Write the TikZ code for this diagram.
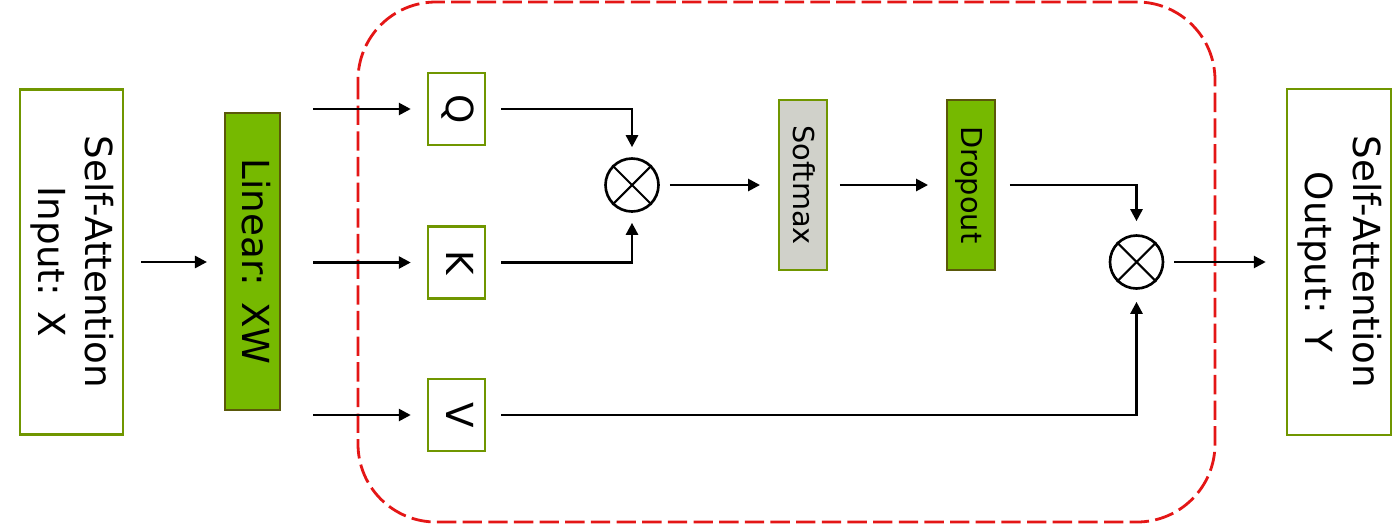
\documentclass[tikz,border=0pt]{standalone}
\usepackage{fontspec}
\setmainfont{DejaVu Sans}
\usepackage{graphicx}
\usetikzlibrary{arrows.meta}

\definecolor{nvgreen}{RGB}{118,185,0}
\definecolor{boxline}{RGB}{112,150,0}
\definecolor{darkline}{RGB}{90,88,10}
\definecolor{greyfill}{RGB}{208,209,202}
\definecolor{dashred}{RGB}{228,22,22}

% rotated (top-to-bottom) label
\newcommand{\vtext}[1]{\rotatebox{-90}{\begin{tabular}{@{}c@{}}#1\end{tabular}}}

\begin{document}
\begin{tikzpicture}[
    font=\fontsize{10.6}{13.6}\selectfont,
    >={Triangle[length=0.12cm,width=0.12cm]},
    arr/.style={->, line width=0.75pt},
    plain/.style={draw=boxline, line width=0.7pt, fill=white, inner sep=0pt},
    greenbox/.style={draw=darkline, line width=0.6pt, fill=nvgreen, inner sep=0pt},
    greybox/.style={draw=boxline, line width=0.6pt, fill=greyfill, inner sep=0pt},
    mult/.style={circle, draw, line width=0.75pt, minimum size=0.53cm, inner sep=0pt}]

    \useasboundingbox (0,0) rectangle (14,-5.25);

    \draw[dashred, line width=0.8pt, dash pattern=on 5.5pt off 1.8pt, rounded corners=0.78cm]
        (3.58,-0.02) rectangle (12.15,-5.22);

    \node[plain, minimum width=1.03cm, minimum height=3.45cm] (in) at (0.715,-2.62) {\vtext{Self-Attention\\Input: X}};
    \node[greenbox, minimum width=0.55cm, minimum height=2.97cm] (lin) at (2.525,-2.615) {\vtext{Linear: XW}};

    \node[plain, minimum width=0.57cm, minimum height=0.72cm] (q) at (4.565,-1.09) {\vtext{Q}};
    \node[plain, minimum width=0.57cm, minimum height=0.72cm] (k) at (4.565,-2.625) {\vtext{K}};
    \node[plain, minimum width=0.57cm, minimum height=0.72cm] (v) at (4.565,-4.15) {\vtext{V}};

    \node[mult] (m1) at (6.32,-1.85) {};
    \node[greybox, minimum width=0.46cm, minimum height=1.70cm] (sm) at (8.03,-1.85) {\vtext{\fontsize{8.2}{10}\selectfont Softmax}};
    \node[greenbox, minimum width=0.46cm, minimum height=1.70cm] (dr) at (9.71,-1.85) {\vtext{\fontsize{8.2}{10}\selectfont Dropout}};
    \node[mult] (m2) at (11.365,-2.62) {};

    \node[plain, minimum width=1.04cm, minimum height=3.46cm] (out) at (13.39,-2.62) {\vtext{Self-Attention\\Output: Y}};

    \foreach \m in {m1,m2}
        \draw[line width=0.6pt] (\m.north west) -- (\m.south east) (\m.north east) -- (\m.south west);

    \draw[arr, shorten <=0.17cm, shorten >=0.17cm] (in.east) -- (in.east -| lin.west);
    \foreach \t in {q,k,v}
        \draw[arr] ([xshift=0.32cm]lin.east |- \t.west) -- ([xshift=-0.16cm]\t.west);

    \draw[arr, shorten <=0.15cm, shorten >=0.1cm] (q.east) -| (m1.north);
    \draw[arr, shorten <=0.15cm, shorten >=0.1cm] (k.east) -| (m1.south);
    \draw[arr, shorten <=0.1cm, shorten >=0.18cm] (m1.east) -- (sm.west);
    \draw[arr, shorten <=0.12cm, shorten >=0.18cm] (sm.east) -- (dr.west);
    \draw[arr, shorten <=0.14cm, shorten >=0.13cm] (dr.east) -| (m2.north);
    \draw[arr, shorten <=0.15cm, shorten >=0.12cm] (v.east) -| (m2.south);
    \draw[arr, shorten <=0.1cm, shorten >=0.2cm] (m2.east) -- (out.west);
\end{tikzpicture}
\end{document}
